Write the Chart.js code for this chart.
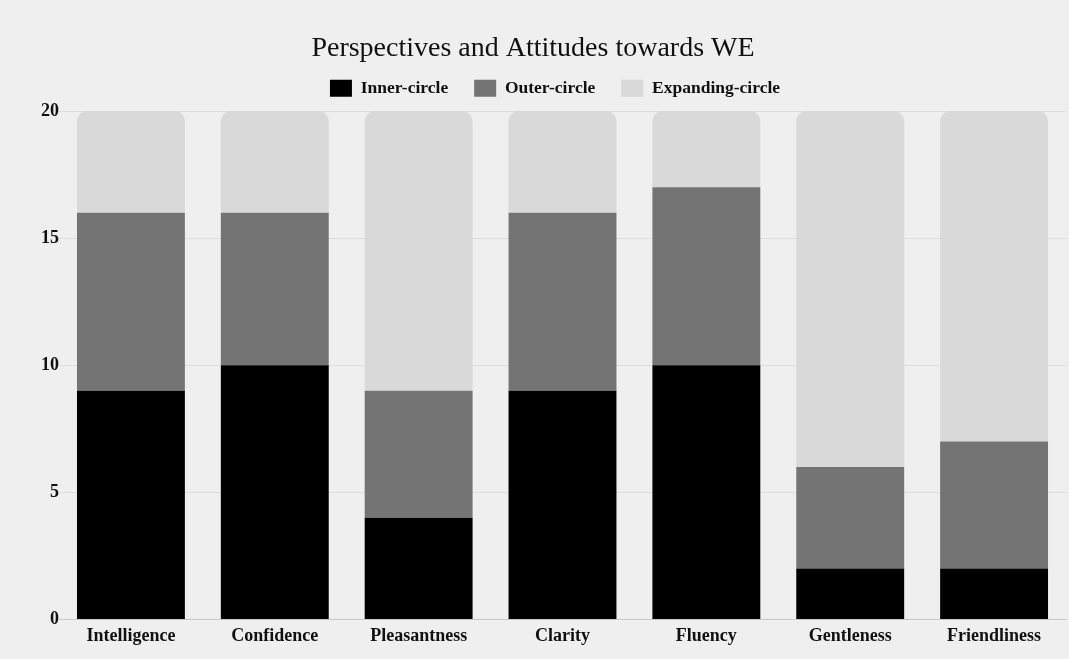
<!DOCTYPE html>
<html>
<head>
<meta charset="utf-8">
<script src="https://cdn.jsdelivr.net/npm/chart.js@4/dist/chart.umd.min.js"></script>
<style>
  html, body { margin: 0; padding: 0; background: #efefef; }
  #wrap { width: 1069px; height: 659px; }
</style>
</head>
<body>
<div id="wrap"><canvas id="chart1"></canvas></div>
<script>
var categories = ["Intelligence", "Confidence", "Pleasantness", "Clarity", "Fluency", "Gentleness", "Friendliness"];
var innerCircle = [9, 10, 4, 9, 10, 2, 2];
var outerCircle = [7, 6, 5, 7, 7, 4, 5];
var expandingCircle = [4, 4, 11, 4, 3, 14, 13];
var yTicks = [0, 5, 10, 15, 20];

var serif = "'Liberation Serif', 'DejaVu Serif', serif";

// a little extra room under the legend, and nudge it right like the original
var legendGap = {
    id: "legendGap",
    beforeInit: function(chart) {
        var fit = chart.legend.fit;
        chart.legend.fit = function() {
            fit.bind(chart.legend)();
            this.height += 4;
        };
    },
    afterLayout: function(chart) {
        chart.legend.left += 22;
        chart.legend.right += 22;
    }
};

new Chart("chart1", {
    type: "bar",
    data: {
        labels: categories,
        datasets: [{
            label: "Inner-circle",
            data: innerCircle,
            backgroundColor: "#000000",
            barPercentage: 0.75,
            categoryPercentage: 1
        }, {
            label: "Outer-circle",
            data: outerCircle,
            backgroundColor: "#747474",
            barPercentage: 0.75,
            categoryPercentage: 1
        }, {
            label: "Expanding-circle",
            data: expandingCircle,
            backgroundColor: "#d9d9d9",
            borderRadius: {topLeft: 10, topRight: 10, bottomLeft: 0, bottomRight: 0},
            borderSkipped: false,
            barPercentage: 0.75,
            categoryPercentage: 1
        }]
    },
    plugins: [legendGap],
    options: {
        responsive: true,
        maintainAspectRatio: false,
        animation: false,
        layout: {padding: {right: 3, bottom: 6}},
        plugins: {
            title: {
                display: true,
                text: "Perspectives and Attitudes towards WE",
                color: "#111",
                font: {family: serif, size: 28, weight: "normal"},
                padding: {top: 32, bottom: -12}
            },
            legend: {
                labels: {
                    color: "#111",
                    boxWidth: 22,
                    boxHeight: 17,
                    padding: 26,
                    font: {family: serif, size: 17.5, weight: "bold"}
                }
            },
            tooltip: {enabled: false}
        },
        scales: {
            x: {
                stacked: true,
                grid: {display: false, drawTicks: false, tickLength: 0},
                border: {display: true, color: "#c8c8c8"},
                ticks: {color: "#111", padding: 6, font: {family: serif, size: 18, weight: "bold"}}
            },
            y: {
                stacked: true,
                min: 0,
                max: 20,
                afterFit: function(scale) { scale.width = 59; },
                afterBuildTicks: function(scale) {
                    scale.ticks = yTicks.map(function(v) { return {value: v}; });
                },
                grid: {color: "rgba(0,0,0,0.07)", drawTicks: false},
                border: {display: false},
                ticks: {color: "#111", padding: 0, font: {family: serif, size: 18, weight: "bold"}}
            }
        }
    }
});
</script>
</body>
</html>
